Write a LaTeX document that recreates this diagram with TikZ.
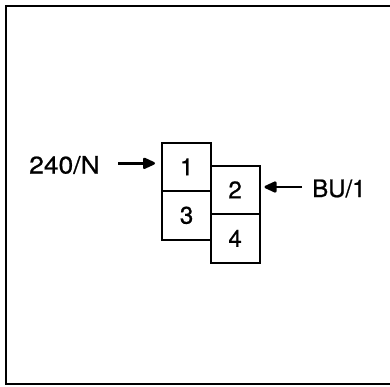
\documentclass[tikz,border=0pt]{standalone}
\usepackage{fontspec}
\setmainfont[FakeBold=0.8]{TeX Gyre Heros}
\usetikzlibrary{arrows.meta}
\begin{document}
\begin{tikzpicture}[x=1pt,y=-1pt,
  cell/.style={draw,line width=2.2pt,minimum width=49pt,minimum height=48.5pt,inner sep=0pt,font=\fontsize{24}{26}\selectfont,anchor=north west},
  lbl/.style={inner sep=0pt,font=\fontsize{24}{26}\selectfont},
  feed/.style={line width=2.6pt,-{Triangle[length=14pt,width=12pt,round]}}]
\useasboundingbox (0,0) rectangle (390,386);
\draw[line width=2.2pt] (392,6) -- (6,6) -- (6,384) -- (392,384);
\node[cell] (c1) at (161,141.5) {1};
\node[cell] (c3) at (161,190) {3};
\node[cell] (c2) at (209.5,164.5) {2};
\node[cell] (c4) at (209.5,213) {4};
\node[lbl,anchor=west,xscale=1.1,transform shape] (t1) at (29,165) {240/N};
\node[lbl,anchor=west] (t2) at (312,188.5) {BU/1};
\coordinate (s1) at (118,163.3);
\coordinate (s2) at (302,187);
\draw[feed] (s1) -- (155,163.3);
\draw[feed] (s2) -- (264.5,187);
\end{tikzpicture}
\end{document}
